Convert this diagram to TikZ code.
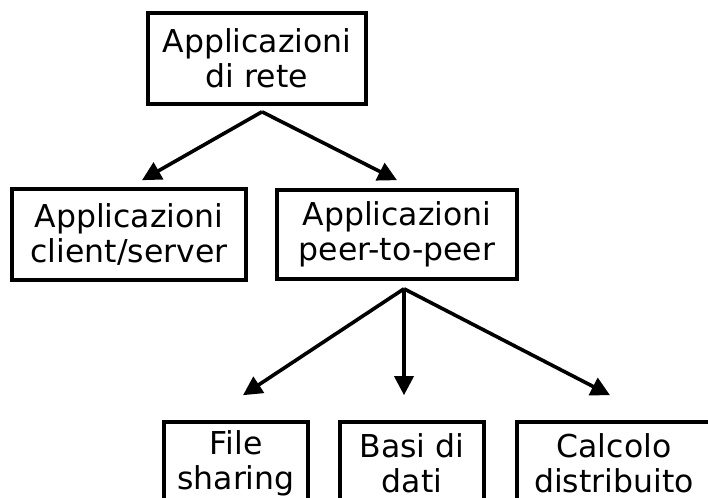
\documentclass[tikz,border=0pt]{standalone}
\usepackage{fontspec}
\setmainfont{DejaVu Sans}
\usepackage{tikz}
\usetikzlibrary{arrows.meta}

\begin{document}
\begin{tikzpicture}[x=1pt,y=-1pt,
  box/.style={draw,line width=3.6pt,inner sep=0pt,align=center,
    font=\fontsize{31.5pt}{35pt}\selectfont},
  link/.style={line width=3.6pt,-{Triangle[length=19pt,width=19pt]}}]
\useasboundingbox (0,0) rectangle (708,497);
\node[box,minimum width=218pt,minimum height=91pt] (rete) at (257,58.5) {Applicazioni\\di rete};
\node[box,minimum width=234pt,minimum height=91pt] (client) at (129,234.5) {Applicazioni\\client/server};
\node[box,minimum width=240pt,minimum height=89pt] (peer) at (397,234.5) {Applicazioni\\peer-to-peer};
\node[box,minimum width=144pt,minimum height=82pt] (file) at (236,463) {File\\sharing};
\node[box,minimum width=144pt,minimum height=82pt] (basi) at (412,463) {Basi di\\dati};
\node[box,minimum width=194pt,minimum height=82pt] (calcolo) at (614,463) {Calcolo\\distribuito};

\draw[link] ([xshift=5pt,yshift=-6pt]rete.south) -- ([xshift=13pt,yshift=7pt]client.north);
\draw[link] ([xshift=5pt,yshift=-6pt]rete.south) -- ([yshift=8pt]peer.north);
\draw[link] ([xshift=7pt,yshift=-8pt]peer.south) -- ([xshift=7pt,yshift=25pt]file.north);
\draw[link] ([xshift=7pt,yshift=-8pt]peer.south) -- ([xshift=-8pt,yshift=25pt]basi.north);
\draw[link] ([xshift=7pt,yshift=-8pt]peer.south) -- ([xshift=-4pt,yshift=25pt]calcolo.north);

\end{tikzpicture}
\end{document}
